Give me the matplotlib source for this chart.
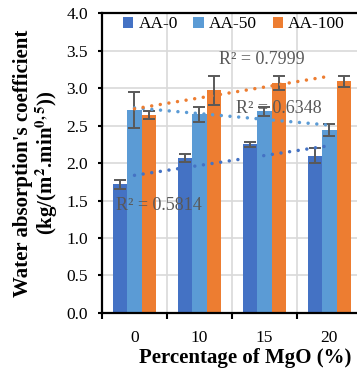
import numpy as np
import matplotlib
matplotlib.use("Agg")
import matplotlib.pyplot as plt

categories = ["0", "10", "15", "20"]
series_names = ["AA-0", "AA-50", "AA-100"]
aa0 = [1.72, 2.07, 2.25, 2.10]
aa50 = [2.71, 2.65, 2.69, 2.44]
aa100 = [2.64, 2.97, 3.07, 3.09]
err0 = [0.06, 0.05, 0.03, 0.10]
err50 = [0.24, 0.10, 0.06, 0.08]
err100 = [0.05, 0.19, 0.09, 0.07]
r2_labels = ["R² = 0.5814", "R² = 0.6348", "R² = 0.7999"]

colors = ["#4472C4", "#5B9BD5", "#ED7D31"]

plt.rcParams["font.family"] = ["Liberation Serif", "DejaVu Serif"]
plt.rcParams["mathtext.fontset"] = "stix"

fig = plt.figure(figsize=(3.57, 3.69), dpi=100)
ax = fig.add_axes([0.2857, 0.152, 0.728, 0.812])

x = np.arange(len(categories))
w = 0.22
values = [aa0, aa50, aa100]
errs = [err0, err50, err100]
for i, (v, e, c, n) in enumerate(zip(values, errs, colors, series_names)):
    ax.bar(x + (i - 1) * w, v, width=w, color=c, label=n, zorder=2,
           yerr=e, ecolor="#595959", capsize=4.5,
           error_kw=dict(elinewidth=1.4, capthick=1.4, zorder=3))

# linear trendlines
xs = np.linspace(0, 3, 200)
for v, c in zip(values, colors):
    p = np.polyfit(x, v, 1)
    ax.plot(xs, np.polyval(p, xs), linestyle=(0, (0.01, 2.5)), color=c,
            linewidth=2.5, zorder=4, dash_capstyle="round", solid_capstyle="round")

ax.text(0.38, 1.43, r2_labels[0], ha="center", va="center", fontsize=13, color="#595959", zorder=5)
ax.text(2.22, 2.73, r2_labels[1], ha="center", va="center", fontsize=13, color="#595959", zorder=5)
ax.text(1.96, 3.38, r2_labels[2], ha="center", va="center", fontsize=13, color="#595959", zorder=5)

ax.set_xlim(-0.5, 3.5)
ax.set_ylim(0, 4.0)
ax.set_yticks(np.arange(0, 4.01, 0.5))
ax.set_yticklabels([f"{t:.1f}" for t in np.arange(0, 4.01, 0.5)], fontsize=12.5)
ax.set_xticks(x)
ax.set_xticklabels(categories, fontsize=12.5)
ax.set_xticks(np.arange(-0.5, 3.6, 1), minor=True)
ax.tick_params(axis="x", which="major", length=0, pad=12)
ax.tick_params(axis="x", which="minor", length=4, width=1.5, direction="out")
ax.tick_params(axis="y", length=3, width=1.5, direction="out", pad=7)

ax.grid(axis="y", color="#d9d9d9", linewidth=1.2, zorder=0)
ax.grid(axis="x", which="minor", color="#d9d9d9", linewidth=1.2, zorder=0)
ax.set_axisbelow(True)

for s in ["left", "bottom", "top"]:
    ax.spines[s].set_linewidth(1.6)
    ax.spines[s].set_color("black")
ax.spines["right"].set_visible(False)

ax.set_xlabel("Percentage of MgO (%)", fontsize=15, fontweight="bold")
ax.xaxis.set_label_coords(0.55, -0.15, transform=ax.transAxes)
ax.xaxis.label.set_va("center")
ax.set_ylabel("Water absorption's coefficient\n" r"(kg/(m$^{\mathbf{2}}$.min$^{\mathbf{0,5}}$))",
              fontsize=15, fontweight="bold", labelpad=5, linespacing=1.0)

leg = ax.legend(loc="upper left", bbox_to_anchor=(0.04, 1.025), ncol=3, frameon=False,
                fontsize=12.5, handlelength=0.6, handleheight=0.6, handletextpad=0.3,
                columnspacing=0.9, borderaxespad=0.2)

fig.savefig("out.png", dpi=100)
